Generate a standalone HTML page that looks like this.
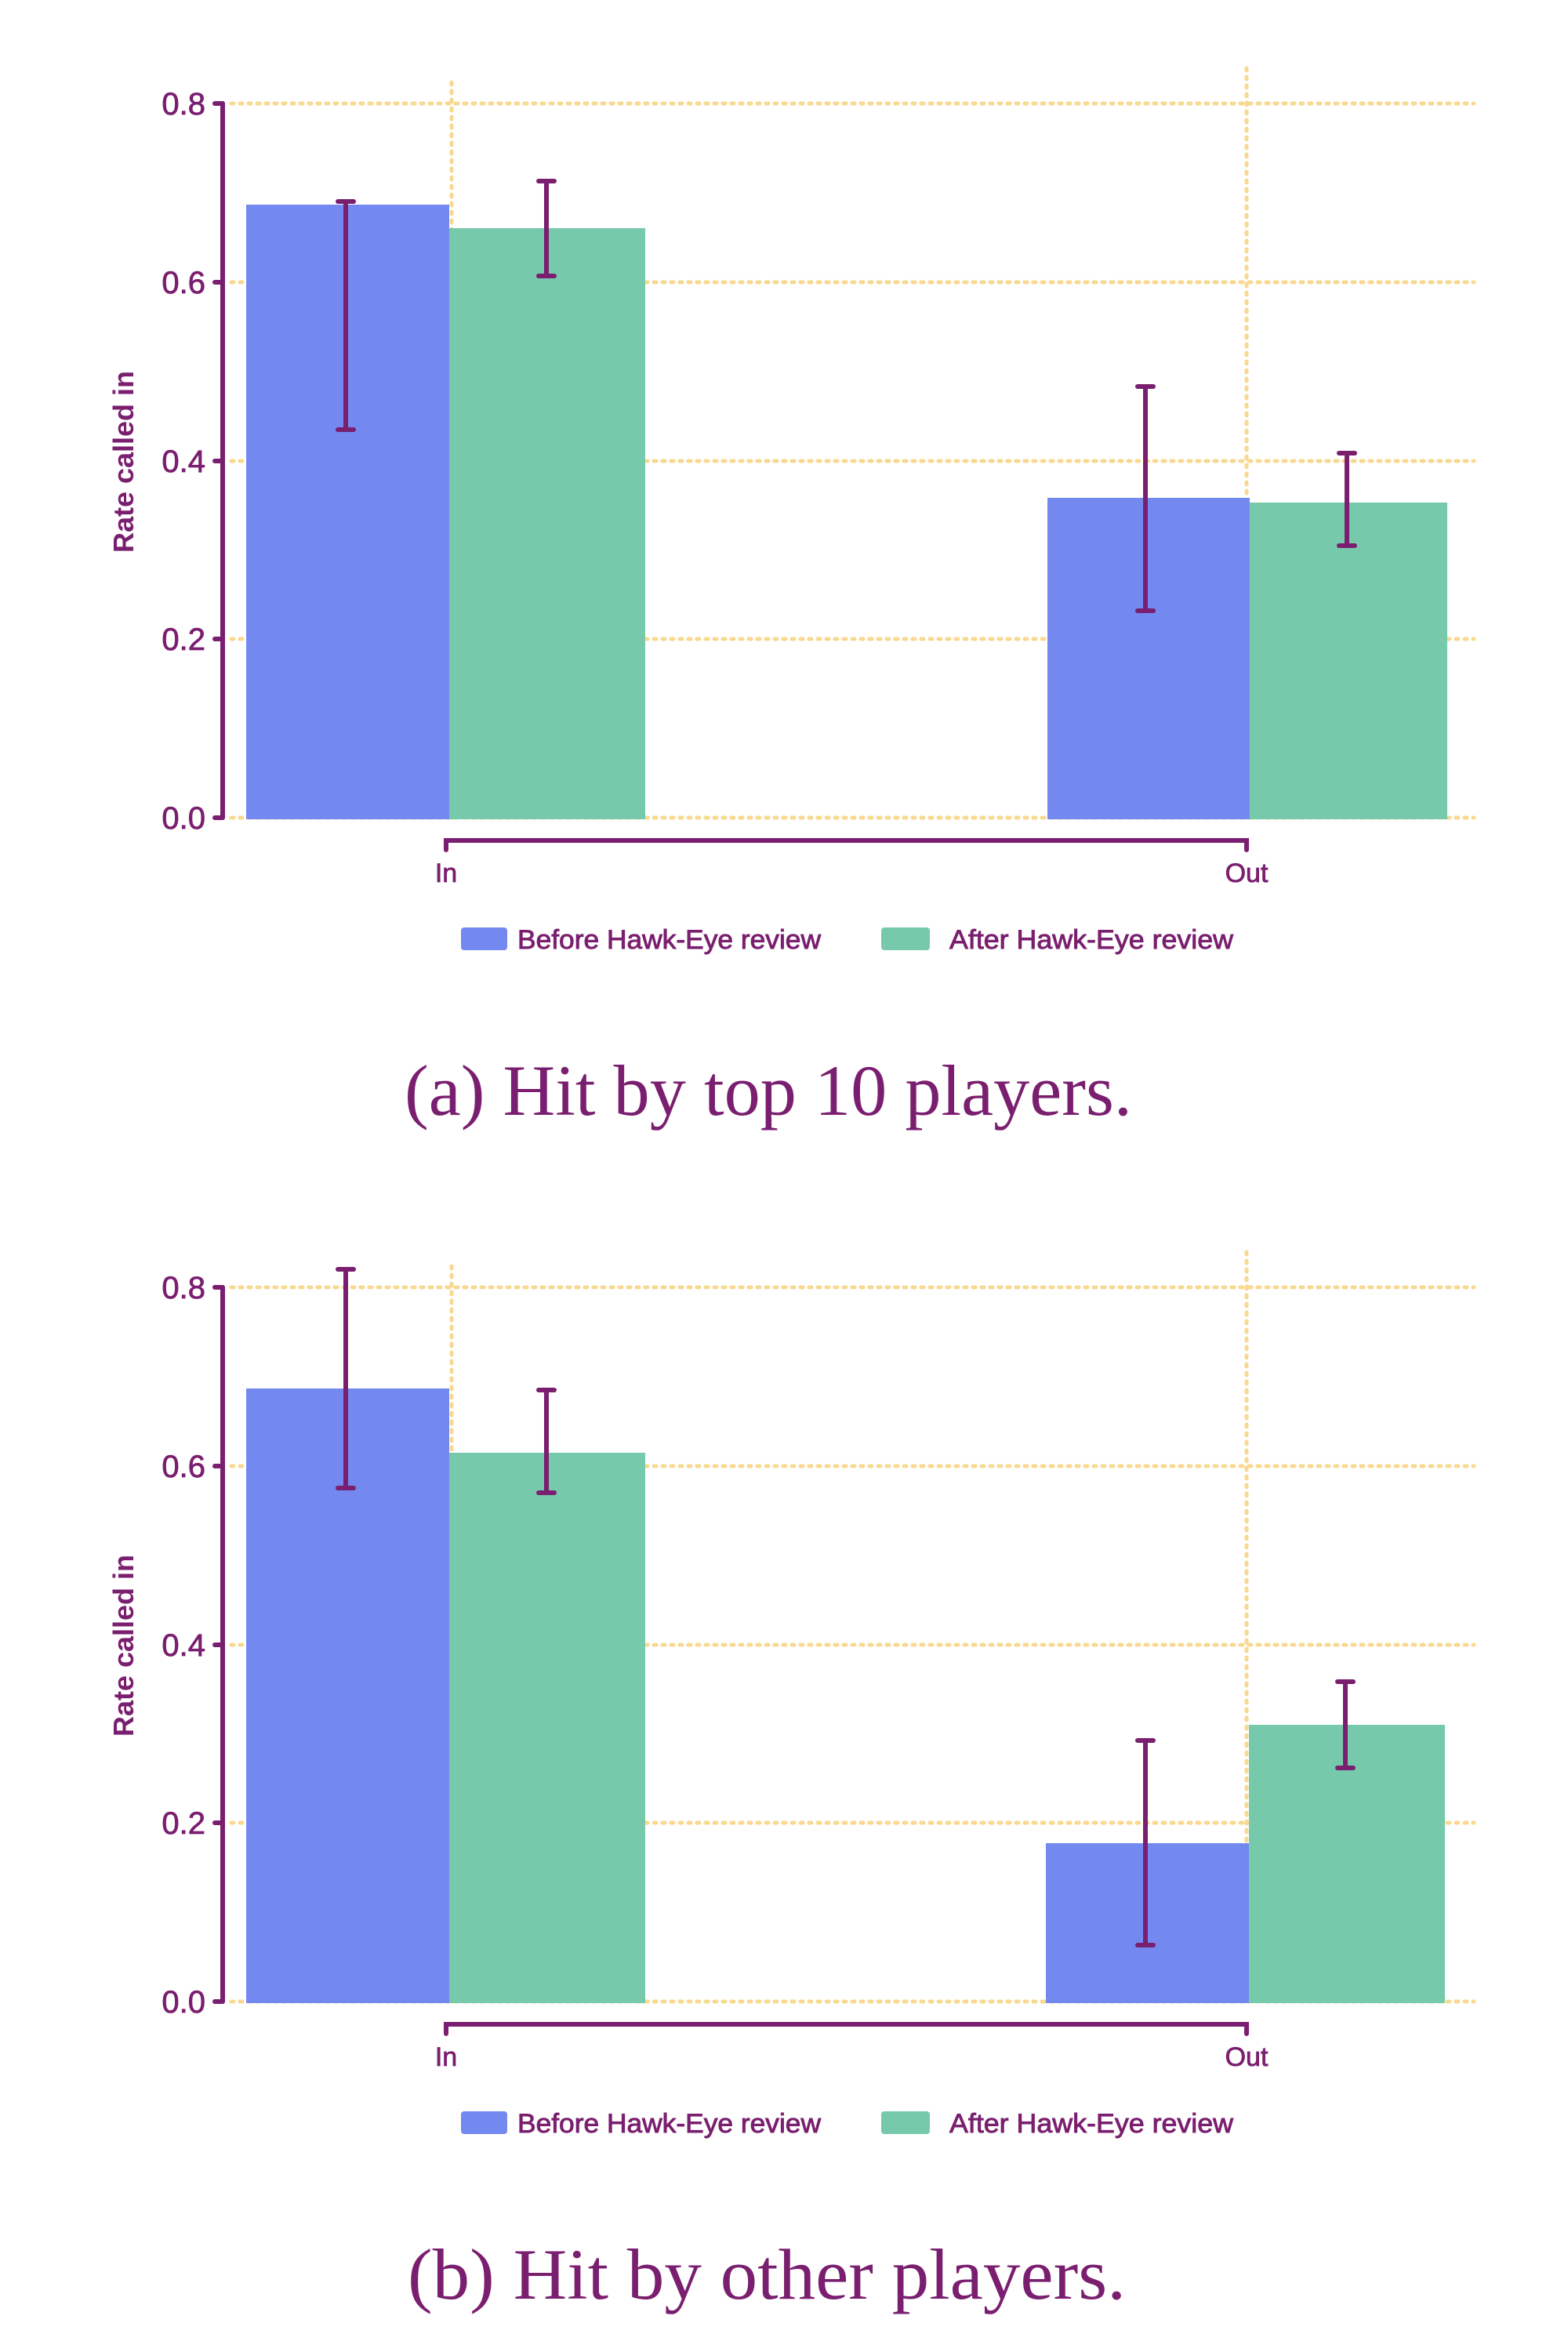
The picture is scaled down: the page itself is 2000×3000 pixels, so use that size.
<!DOCTYPE html>
<html><head><meta charset="utf-8"><style>html,body{margin:0;padding:0;background:#fff}svg{display:block}</style></head>
<body>
<svg width="2000" height="3000" viewBox="0 0 2000 3000" xmlns="http://www.w3.org/2000/svg">
<defs>
<g id="frame">
  <g stroke="#f9d88f" stroke-width="5" stroke-dasharray="3 8" stroke-linecap="round">
    <line x1="295" y1="132" x2="1880" y2="132"/>
    <line x1="295" y1="360" x2="1880" y2="360"/>
    <line x1="295" y1="588" x2="1880" y2="588"/>
    <line x1="295" y1="815" x2="1880" y2="815"/>
    <line x1="295" y1="1043" x2="1880" y2="1043"/>
    <line x1="576" y1="105" x2="576" y2="1043"/>
    <line x1="1590" y1="87" x2="1590" y2="1043"/>
  </g>
  <g stroke="#7a1f6f" stroke-width="6" fill="none" stroke-linecap="round">
    <line x1="284" y1="132" x2="284" y2="1043"/>
    <line x1="274" y1="132" x2="284" y2="132"/>
    <line x1="274" y1="360" x2="284" y2="360"/>
    <line x1="274" y1="588" x2="284" y2="588"/>
    <line x1="274" y1="815" x2="284" y2="815"/>
    <line x1="274" y1="1043" x2="284" y2="1043"/>
    <polyline points="569,1084 569,1072 1590,1072 1590,1084"/>
  </g>
  <g font-family="Liberation Sans, sans-serif" font-size="40" fill="#7a1f6f" text-anchor="end" stroke="#7a1f6f" stroke-width="0.8">
    <text x="262" y="146">0.8</text>
    <text x="262" y="374">0.6</text>
    <text x="262" y="602">0.4</text>
    <text x="262" y="829">0.2</text>
    <text x="262" y="1057">0.0</text>
  </g>
  <text transform="translate(170,589) rotate(-90)" font-family="Liberation Sans, sans-serif" font-weight="bold" font-size="36" fill="#7a1f6f" text-anchor="middle">Rate called in</text>
  <g font-family="Liberation Sans, sans-serif" font-size="34" fill="#7a1f6f" text-anchor="middle" stroke="#7a1f6f" stroke-width="0.8">
    <text x="569" y="1125">In</text>
    <text x="1590" y="1125">Out</text>
  </g>
  <rect x="588" y="1183" width="59" height="29" rx="4" fill="#7389f0"/>
  <rect x="1124" y="1183" width="62" height="29" rx="4" fill="#77c9ac"/>
  <g font-family="Liberation Sans, sans-serif" font-size="34" fill="#7a1f6f" stroke="#7a1f6f" stroke-width="0.9">
    <text x="660" y="1210" textLength="387" lengthAdjust="spacingAndGlyphs">Before Hawk-Eye review</text>
    <text x="1211" y="1210" textLength="362" lengthAdjust="spacingAndGlyphs">After Hawk-Eye review</text>
  </g>
</g>
</defs>

<use href="#frame"/>
<rect x="314" y="261" width="259" height="784" fill="#7389f0"/>
<rect x="573" y="291" width="250" height="754" fill="#77c9ac"/>
<rect x="1336" y="635" width="258" height="410" fill="#7389f0"/>
<rect x="1594" y="641" width="252" height="404" fill="#77c9ac"/>
<g stroke="#7a1f6f" stroke-width="6" stroke-linecap="round">
  <line x1="441" y1="257" x2="441" y2="548"/><line x1="431" y1="257" x2="451" y2="257"/><line x1="431" y1="548" x2="451" y2="548"/>
  <line x1="697" y1="231" x2="697" y2="352"/><line x1="687" y1="231" x2="707" y2="231"/><line x1="687" y1="352" x2="707" y2="352"/>
  <line x1="1461" y1="493" x2="1461" y2="779"/><line x1="1451" y1="493" x2="1471" y2="493"/><line x1="1451" y1="779" x2="1471" y2="779"/>
  <line x1="1718" y1="578" x2="1718" y2="696"/><line x1="1708" y1="578" x2="1728" y2="578"/><line x1="1708" y1="696" x2="1728" y2="696"/>
</g>
<text x="980" y="1422" font-family="Liberation Serif, serif" font-size="92" fill="#7a1f6f" text-anchor="middle" textLength="928" lengthAdjust="spacingAndGlyphs">(a) Hit by top 10 players.</text>

<g transform="translate(0,1510)">
<use href="#frame"/>
<rect x="314" y="261" width="259" height="784" fill="#7389f0"/>
<rect x="573" y="343" width="250" height="702" fill="#77c9ac"/>
<rect x="1334" y="841" width="259" height="204" fill="#7389f0"/>
<rect x="1593" y="690" width="250" height="355" fill="#77c9ac"/>
<g stroke="#7a1f6f" stroke-width="6" stroke-linecap="round">
  <line x1="441" y1="109" x2="441" y2="388"/><line x1="431" y1="109" x2="451" y2="109"/><line x1="431" y1="388" x2="451" y2="388"/>
  <line x1="697" y1="263" x2="697" y2="394"/><line x1="687" y1="263" x2="707" y2="263"/><line x1="687" y1="394" x2="707" y2="394"/>
  <line x1="1461" y1="710" x2="1461" y2="971"/><line x1="1451" y1="710" x2="1471" y2="710"/><line x1="1451" y1="971" x2="1471" y2="971"/>
  <line x1="1716" y1="635" x2="1716" y2="745"/><line x1="1706" y1="635" x2="1726" y2="635"/><line x1="1706" y1="745" x2="1726" y2="745"/>
</g>
<text x="978" y="1422" font-family="Liberation Serif, serif" font-size="92" fill="#7a1f6f" text-anchor="middle" textLength="916" lengthAdjust="spacingAndGlyphs">(b) Hit by other players.</text>
</g>
</svg>
</body></html>
